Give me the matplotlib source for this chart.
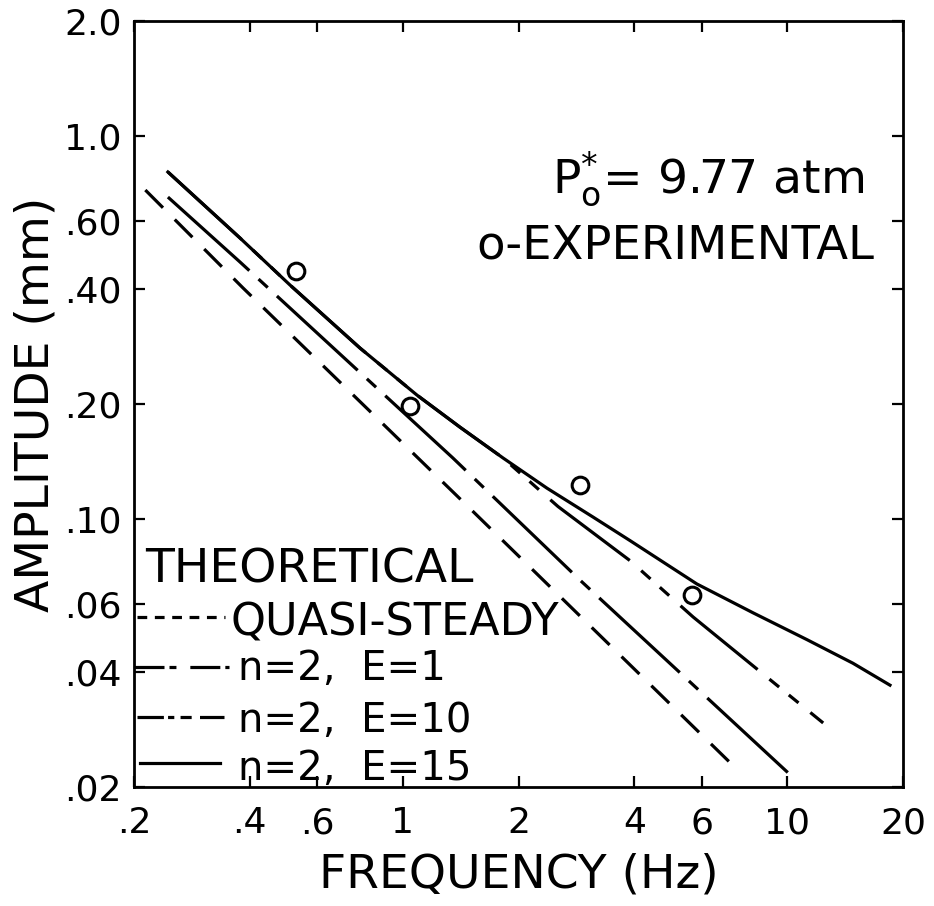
import matplotlib
matplotlib.use('Agg')
import matplotlib.pyplot as plt

# experimental points
freq_exp = [0.528, 1.044, 2.89, 5.65]
amp_exp = [0.445, 0.198, 0.123, 0.0634]

# theoretical curves
freq_qs = [0.214, 0.384, 1.45, 7.45]
amp_qs = [0.724, 0.402, 0.110, 0.0221]

freq_e1 = [0.245, 0.377, 1.35, 2.89, 10.35]
amp_e1 = [0.694, 0.470, 0.1446, 0.0694, 0.0212]

freq_e10 = [0.245, 0.377, 0.509, 0.774, 1.089, 1.409, 1.823, 2.534, 3.90, 5.69, 12.4]
amp_e10 = [0.807, 0.543, 0.409, 0.280, 0.211, 0.174, 0.1446, 0.108, 0.078, 0.0556, 0.0294]

freq_e15 = [0.245, 0.377, 0.509, 0.774, 1.089, 1.409, 1.823, 2.372, 3.124, 3.90,
            5.82, 8.15, 11.26, 14.82, 18.5]
amp_e15 = [0.807, 0.543, 0.409, 0.280, 0.211, 0.174, 0.1446, 0.1206, 0.1014, 0.0880,
           0.0678, 0.0570, 0.0485, 0.0421, 0.0369]

xticks = [0.2, 0.4, 0.6, 1, 2, 4, 6, 10, 20]
xticklabels = ['.2', '.4', '.6', '1', '2', '4', '6', '10', '20']
yticks = [0.02, 0.04, 0.06, 0.1, 0.2, 0.4, 0.6, 1.0, 2.0]
yticklabels = ['.02', '.04', '.06', '.10', '.20', '.40', '.60', '1.0', '2.0']

plt.rcParams['font.family'] = ['DejaVu Sans']
plt.rcParams['lines.scale_dashes'] = False

fig = plt.figure(figsize=(9.34, 9.06), dpi=100)
ax = fig.add_axes([0.1435, 0.1313, 0.8233, 0.8455])

lw = 2.3
ls_qs = (0, (18, 12))
ls_e1 = (0, (79, 9, 9, 9))
ls_e10 = (0, (72, 11, 9, 9, 9, 11))

ax.plot(freq_qs, amp_qs, color='k', lw=lw, linestyle=ls_qs)
ax.plot(freq_e1, amp_e1, color='k', lw=lw, linestyle=ls_e1)
ax.plot(freq_e10, amp_e10, color='k', lw=lw, linestyle=ls_e10)
ax.plot(freq_e15, amp_e15, color='k', lw=lw, linestyle='-')
ax.plot(freq_exp, amp_exp, linestyle='none', marker='o', ms=12, mew=2.2,
        mec='k', mfc='none')

ax.set_xscale('log')
ax.set_yscale('log')
ax.set_xlim(0.2, 20)
ax.set_ylim(0.02, 2.0)
ax.set_xticks(xticks)
ax.set_xticklabels(xticklabels)
ax.set_yticks(yticks)
ax.set_yticklabels(yticklabels)
ax.minorticks_off()
ax.tick_params(which='both', direction='in', top=True, right=True,
               length=8, width=1.6, labelsize=26)
ax.tick_params(axis='x', pad=14)
ax.tick_params(axis='y', pad=9)
for sp in ax.spines.values():
    sp.set_linewidth(2)

ax.set_xlabel('FREQUENCY (Hz)', fontsize=34)
ax.set_ylabel('AMPLITUDE (mm)', fontsize=34)
ax.xaxis.set_label_coords(0.5, -0.086)
ax.yaxis.set_label_coords(-0.098, 0.5)

# annotation top right
ax.text(0.5436, 0.7755, r'$\mathregular{P}_{\mathregular{o}}^{*}$= 9.77 atm',
        transform=ax.transAxes, fontsize=34, va='baseline', ha='left')
ax.text(0.4447, 0.6906, 'o-EXPERIMENTAL', transform=ax.transAxes,
        fontsize=33.5, va='baseline', ha='left')

# hand drawn key, lower left
ax.text(0.0143, 0.2676, 'THEORETICAL', transform=ax.transAxes,
        fontsize=34, va='baseline', ha='left')
keys = [
    (0.222, 0.004, 0.118, (0, (7, 5.5)), 'QUASI-STEADY', 0.125, 0.1984, 32),
    (0.1567, 0.0, 0.123, (0, (21.6, 3.6, 5, 10)), 'n=2,  E=1', 0.135, 0.1397, 29),
    (0.0914, 0.004, 0.117, (0, (19, 3, 4.5, 4.5, 8, 6)), 'n=2,  E=10', 0.135, 0.0718, 29),
    (0.0313, 0.008, 0.112, '-', 'n=2,  E=15', 0.135, 0.0091, 29),
]
for ly, x0, x1, st, lab, tx, ty, fs in keys:
    ax.plot([x0, x1], [ly, ly], transform=ax.transAxes, color='k', lw=lw,
            linestyle=st)
    ax.text(tx, ty, lab, transform=ax.transAxes, fontsize=fs,
            va='baseline', ha='left')

fig.savefig('out.png', dpi=100)
